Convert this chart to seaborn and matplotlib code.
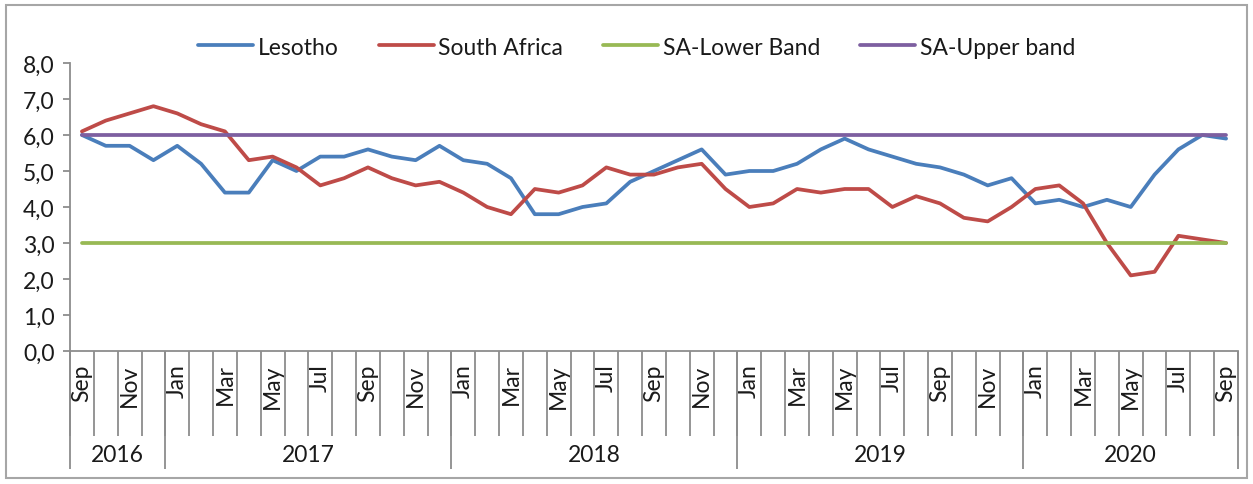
import pandas as pd
import numpy as np
import matplotlib.pyplot as plt
import seaborn as sns
from matplotlib.patches import Rectangle

# Datos mensuales, Sep 2016 - Sep 2020
months = ["Sep", "Oct", "Nov", "Dec",
          "Jan", "Feb", "Mar", "Apr", "May", "Jun", "Jul", "Aug", "Sep", "Oct", "Nov", "Dec",
          "Jan", "Feb", "Mar", "Apr", "May", "Jun", "Jul", "Aug", "Sep", "Oct", "Nov", "Dec",
          "Jan", "Feb", "Mar", "Apr", "May", "Jun", "Jul", "Aug", "Sep", "Oct", "Nov", "Dec",
          "Jan", "Feb", "Mar", "Apr", "May", "Jun", "Jul", "Aug", "Sep"]
years = ["2016", "2017", "2018", "2019", "2020"]
months_per_year = [4, 12, 12, 12, 9]

lesotho = [6.0, 5.7, 5.7, 5.3,
           5.7, 5.2, 4.4, 4.4, 5.3, 5.0, 5.4, 5.4, 5.6, 5.4, 5.3, 5.7,
           5.3, 5.2, 4.8, 3.8, 3.8, 4.0, 4.1, 4.7, 5.0, 5.3, 5.6, 4.9,
           5.0, 5.0, 5.2, 5.6, 5.9, 5.6, 5.4, 5.2, 5.1, 4.9, 4.6, 4.8,
           4.1, 4.2, 4.0, 4.2, 4.0, 4.9, 5.6, 6.0, 5.9]
south_africa = [6.1, 6.4, 6.6, 6.8,
                6.6, 6.3, 6.1, 5.3, 5.4, 5.1, 4.6, 4.8, 5.1, 4.8, 4.6, 4.7,
                4.4, 4.0, 3.8, 4.5, 4.4, 4.6, 5.1, 4.9, 4.9, 5.1, 5.2, 4.5,
                4.0, 4.1, 4.5, 4.4, 4.5, 4.5, 4.0, 4.3, 4.1, 3.7, 3.6, 4.0,
                4.5, 4.6, 4.1, 3.0, 2.1, 2.2, 3.2, 3.1, 3.0]
lower_band = [3.0] * len(months)
upper_band = [6.0] * len(months)

series_names = ["Lesotho", "South Africa", "SA-Lower Band", "SA-Upper band"]
colors = ["#4A7EBB", "#BE4B48", "#98B954", "#7D5FA0"]

# Formato largo para seaborn
idx = np.arange(len(months))
df = pd.concat([
    pd.DataFrame({"t": idx, "value": vals, "series": name})
    for name, vals in zip(series_names, [lesotho, south_africa, lower_band, upper_band])
])

sns.set_style("white")
plt.rcParams["font.family"] = ["Lato", "DejaVu Sans"]
text_color = "#1a1a1a"
axis_color = "#8c8c8c"

fig = plt.figure(figsize=(12.53, 4.85), dpi=100)
ax = fig.add_axes([70 / 1253, 1 - 352 / 485, (1238 - 70) / 1253, (352 - 64) / 485])

sns.lineplot(data=df, x="t", y="value", hue="series", hue_order=series_names,
             palette=dict(zip(series_names, colors)), linewidth=2.7, ax=ax, legend=False)

ax.set_xlim(-0.5, len(months) - 0.5)
ax.set_ylim(0, 8)
ax.set_xlabel("")
ax.set_ylabel("")

# Eje Y con coma decimal
ax.set_yticks(np.arange(0, 9, 1))
ax.set_yticklabels([f"{v:.1f}".replace(".", ",") for v in np.arange(0, 9, 1)],
                   fontsize=16.5, color=text_color)
ax.tick_params(axis="y", direction="out", length=5, width=1.3, color=axis_color, pad=6, left=True)

# Eje X: etiquetas de meses (una sí, una no) y marcas entre categorías
label_pos = idx[::2]
ax.set_xticks(label_pos)
ax.set_xticklabels([months[i] for i in label_pos], rotation=90, fontsize=16.5, color=text_color)
ax.set_xticks(np.arange(-0.5, len(months)), minor=True)
ax.tick_params(axis="x", which="major", length=0, pad=9)
ax.tick_params(axis="x", which="minor", direction="out", length=61, width=1.3,
               color=axis_color, bottom=True)

# Separadores de años y etiquetas de años
bounds = np.concatenate([[0], np.cumsum(months_per_year)]) - 0.5
trans = ax.get_xaxis_transform()
ax.vlines(bounds, -0.41, 0, transform=trans, color=axis_color, linewidth=1.3, clip_on=False)
for y_label, a, b in zip(years, bounds[:-1], bounds[1:]):
    ax.text((a + b) / 2, -0.36, y_label, transform=trans, ha="center", va="center",
            fontsize=16.5, color=text_color)

for side in ["top", "right"]:
    ax.spines[side].set_visible(False)
for side in ["left", "bottom"]:
    ax.spines[side].set_color(axis_color)
    ax.spines[side].set_linewidth(1.3)

# Leyenda superior
handles = [plt.Line2D([0], [0], color=c, linewidth=2.7) for c in colors]
fig.legend(handles, series_names, loc="center", bbox_to_anchor=(0.508, 0.901), ncol=4,
           frameon=False, fontsize=16.5, handlelength=2.4, handletextpad=0.2,
           columnspacing=1.75, labelcolor=text_color)

# Marco exterior
fig.patches.append(Rectangle((6 / 1253, 6 / 485), 1 - 12 / 1253, 1 - 12 / 485,
                             transform=fig.transFigure, fill=False,
                             edgecolor="#a6a6a6", linewidth=1.5))

fig.savefig("out.png", dpi=100)
